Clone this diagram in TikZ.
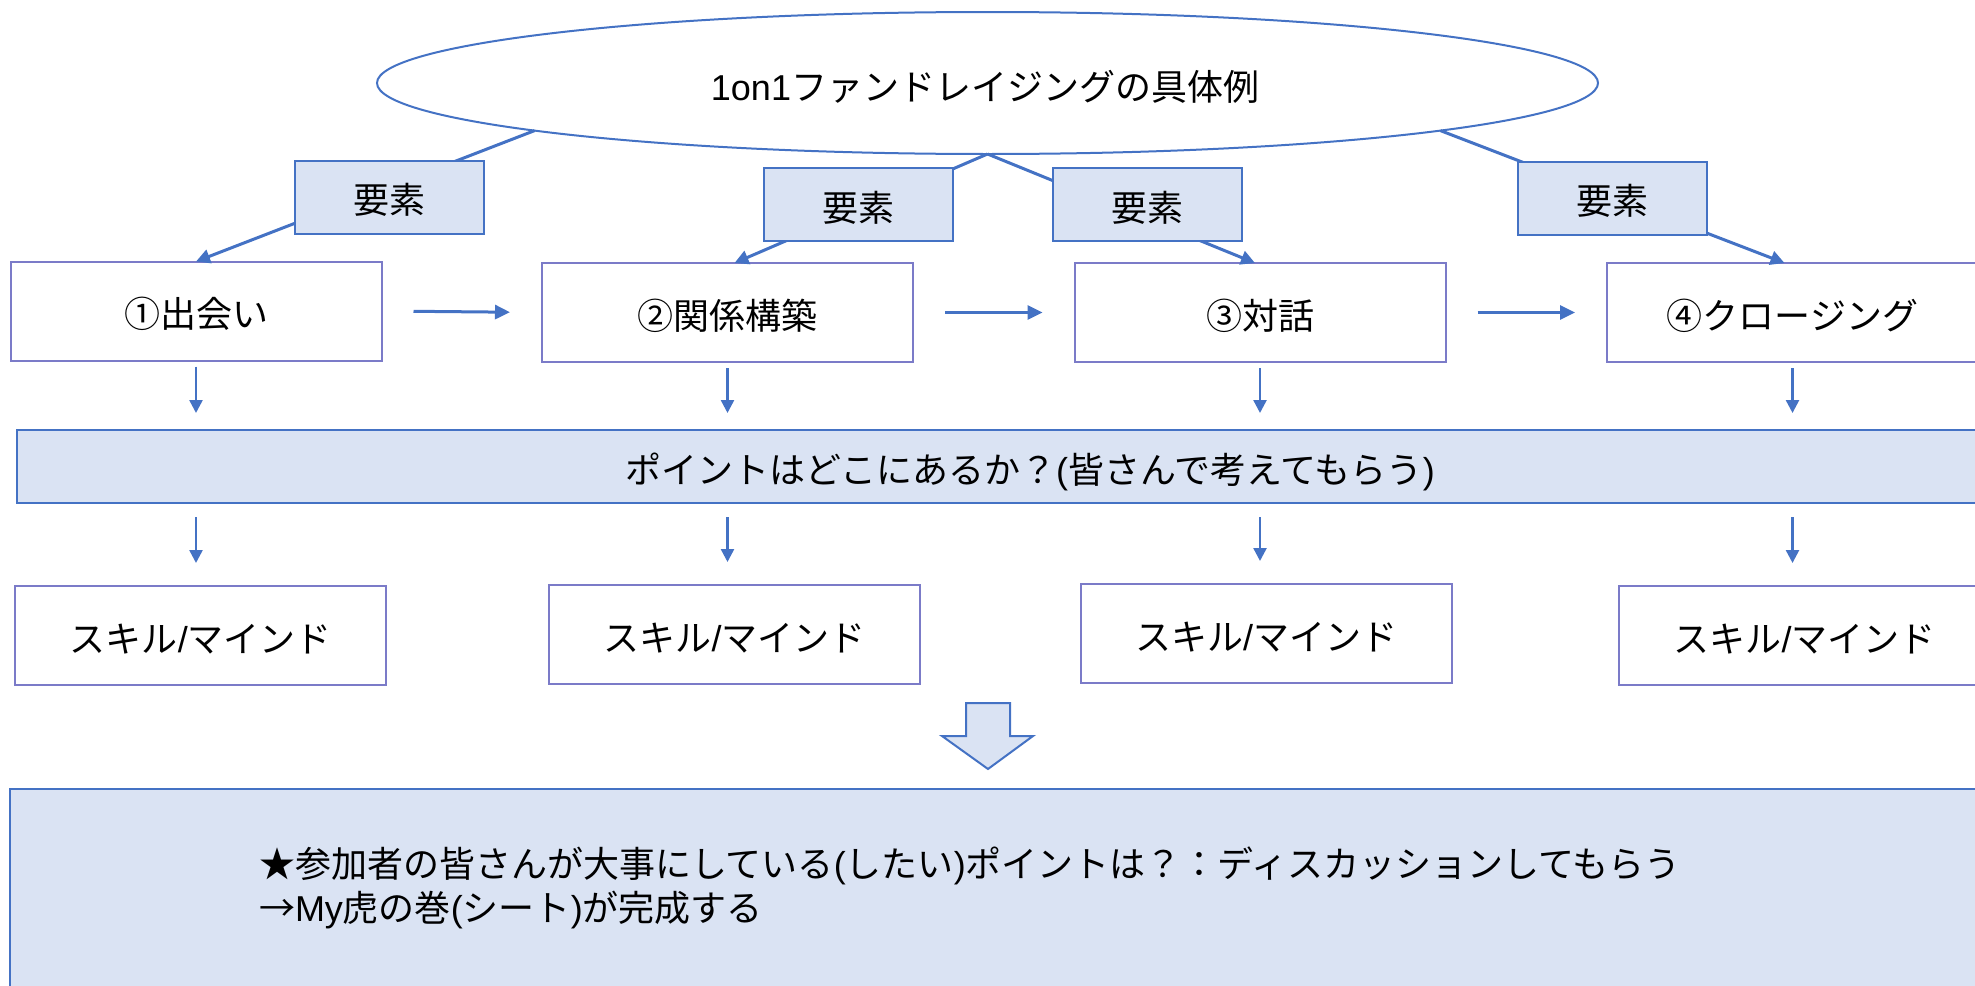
\documentclass[tikz,border=0pt]{standalone}
\usepackage{fontspec}
\setmainfont{Noto Sans CJK JP}
\newfontfamily\lat{Liberation Sans}
\usetikzlibrary{shapes.geometric,arrows.meta,calc}
\definecolor{acc}{HTML}{4472C4}
\definecolor{lfill}{HTML}{DAE3F3}
\definecolor{boxc}{HTML}{7B7BC8}
\begin{document}
\begin{tikzpicture}[x=0.5pt,y=-0.5pt,
  every node/.style={font=\fontsize{18pt}{22pt}\selectfont, inner sep=0pt, outer sep=0pt},
  txt/.style={text height=16.5pt, text depth=0pt},
  wbox/.style={txt, draw=boxc, line width=1pt, fill=white, minimum width=185.5pt, minimum height=49.5pt},
  lab/.style={txt, draw=acc, line width=1pt, fill=lfill, minimum width=94.5pt, minimum height=36.5pt},
  conn/.style={draw=acc, line width=1.5pt, -{Triangle[length=7pt,width=7pt]}},
  harr/.style={draw=acc, line width=1.5pt, -{Triangle[length=7.5pt,width=7pt]}, shorten <=16pt, shorten >=16pt},
  varr/.style={draw=acc, line width=1.25pt, -{Triangle[length=6.5pt,width=6.5pt]}},
]
\useasboundingbox (0,0) rectangle (1975,985);

% title ellipse
\node[ellipse, draw=acc, line width=1pt, minimum width=610.5pt, minimum height=71pt] (ell) at (987.5,83) {};
\node[txt] (title) at (985,84) {{\lat 1on1}ファンドレイジングの具体例};

% stage boxes
\node[wbox] (b1) at (196,311) {①出会い};
\node[wbox] (b2) at (727.5,312.5) {②関係構築};
\node[wbox] (b3) at (1260,312.5) {③対話};
\node[wbox] (b4) at (1792.5,312.5) {④クロージング};

% connectors from ellipse
\draw[conn] (ell.186.6) -- (b1.north);
\draw[conn] (ell.south) -- ($(b2.north)+(7,0)$);
\draw[conn] (ell.south) -- ($(b3.north)+(-5,0)$);
\draw[conn] (ell.-6.6) -- ($(b4.north)+(-8,0)$);

% labels
\node[lab] (l1) at (389,197) {要素};
\node[lab] (l2) at (858.5,204.5) {要素};
\node[lab] (l3) at (1147,204.5) {要素};
\node[lab] (l4) at (1612.5,198) {要素};

% horizontal arrows
\draw[harr] (b1.east) -- (b2.west);
\draw[harr] (b2.east) -- (b3.west);
\draw[harr] (b3.east) -- (b4.west);

% question bar
\node[draw=acc, line width=1.25pt, fill=lfill, minimum width=1013pt, minimum height=36.5pt] (bar) at (1030,466.5) {};
\node[txt] (bartext) at (1030,467) {ポイントはどこにあるか？{\lat (}皆さんで考えてもらう{\lat )}};

% skill boxes
\node[wbox] (s1) at (200.8,635.5) {スキル{\lat /}マインド};
\node[wbox] (s2) at (734.7,634.5) {スキル{\lat /}マインド};
\node[wbox] (s3) at (1266,633.5) {スキル{\lat /}マインド};
\node[wbox] (s4) at (1804.5,635.5) {スキル{\lat /}マインド};

% vertical arrows
\foreach \b/\s in {b1/s1,b2/s2,b3/s3,b4/s4}{
  \draw[varr, shorten <=3pt, shorten >=8.5pt] (\b.south) -- (\b.south |- bar.north);
  \draw[varr, shorten <=7pt, shorten >=11.5pt] (\b.south |- bar.south) -- (\b.south |- \s.north);
}

% block arrow
\draw[draw=acc, line width=1pt, fill=lfill, line join=miter]
  (966,703) -- (1010,703) -- (1010,736) -- (1033,736) -- (988,769) -- (942,736) -- (966,736) -- cycle;

% bottom box
\draw[draw=acc, line width=1.25pt, fill=lfill] (10,789) rectangle (2010,1010);
\node[anchor=west, align=left] (bottomtext) at (259,888)
  {★参加者の皆さんが大事にしている{\lat (}したい{\lat )}ポイントは？：ディスカッションしてもらう\\→{\lat My}虎の巻{\lat (}シート{\lat )}が完成する};
\end{tikzpicture}
\end{document}
